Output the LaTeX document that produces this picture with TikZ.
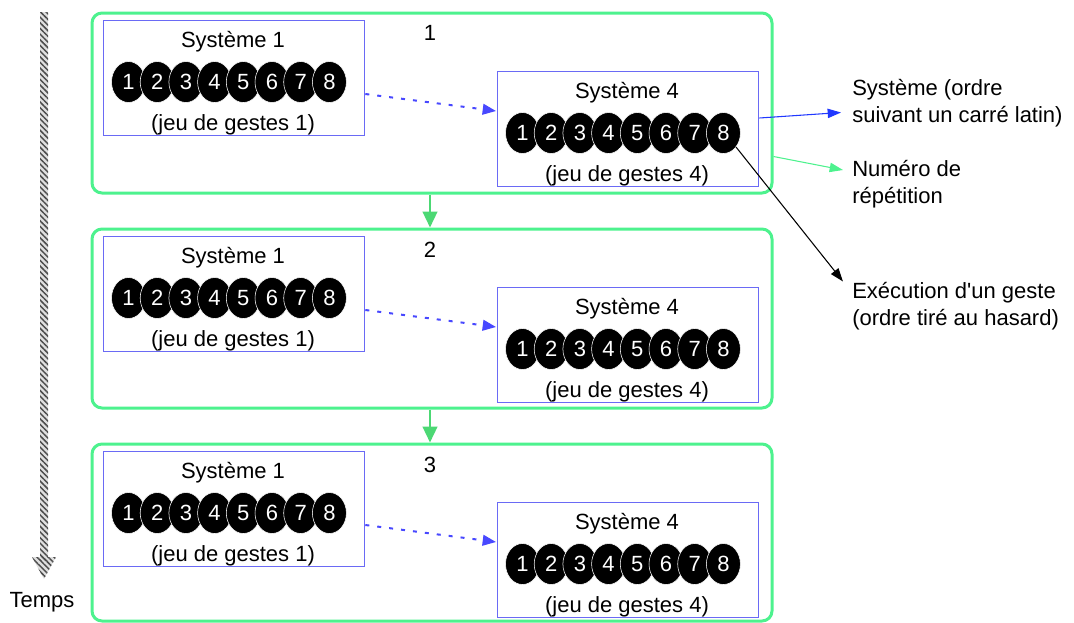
\documentclass[tikz,border=0pt]{standalone}
\usepackage{fontspec}
\setmainfont{Liberation Sans}
\usetikzlibrary{shapes.geometric,arrows.meta,calc,patterns.meta}
\definecolor{gbox}{HTML}{4DF28E}
\definecolor{bbox}{HTML}{6A6AF5}
\definecolor{barrow}{HTML}{4848FF}
\definecolor{garrow}{HTML}{4CD874}
\definecolor{bline}{HTML}{2038FF}
\newcommand\sysgroup[4]{%
  \node[sysbox, anchor=north west] (#1) at (#2,#3) {};
  \node (#1-title) at (#2+130,#3+22) {Système #4};
  \foreach \i in {1,...,8}{\node[gest] (#1-\i) at ({#2+25.5+(\i-1)*28.7},{#3+62}) {\i};}
  \node (#1-jeu) at (#2+130,#3+105) {(jeu de gestes #4)};
}
\begin{document}
\begin{tikzpicture}[x=0.75pt,y=-0.75pt,
  font=\fontsize{16.5}{20.25}\selectfont,
  rep/.style={draw=gbox, line width=2.25pt, rounded corners=7.5pt, minimum width=510pt, inner sep=0pt},
  sysbox/.style={draw=bbox, line width=1pt, minimum width=195.75pt, minimum height=86.25pt, inner sep=0pt},
  gest/.style={ellipse, fill=black, draw=white, line width=0.4pt, minimum width=25.5pt, minimum height=30.75pt, inner sep=0pt, text=white},
  dasharrow/.style={barrow, line width=1.5pt, dash pattern=on 3pt off 6pt, -{Triangle[length=10pt,width=8pt]}},
  reparrow/.style={garrow, line width=1.8pt, -{Triangle[length=12pt,width=11pt]}},
  lbl/.style={align=left, anchor=west, inner sep=0pt},
  thinarrow/.style={line width=0.8pt, -{Triangle[length=10pt,width=7pt]}}
]
\useasboundingbox (0,0) rectangle (1074,622);

% repetition boxes
\node[rep, minimum height=135pt] (r1) at (432,103) {};
\node[rep, minimum height=134.25pt] (r2) at (432,318.5) {};
\node[rep, minimum height=132.75pt] (r3) at (432,532.5) {};

\node (n1) at (430,33) {1};
\node (n2) at (430,250) {2};
\node (n3) at (430,465) {3};

% systems
\sysgroup{s1a}{103}{20}{1}
\sysgroup{s4a}{497}{71}{4}
\sysgroup{s1b}{103}{236}{1}
\sysgroup{s4b}{497}{287}{4}
\sysgroup{s1c}{103}{451}{1}
\sysgroup{s4c}{497}{502}{4}

% dashed arrows
\draw[dasharrow] ($(s1a.north east)+(0,74)$) -- ($(s4a.north west)+(-1,40)$);
\draw[dasharrow] ($(s1b.north east)+(0,74)$) -- ($(s4b.north west)+(-1,40)$);
\draw[dasharrow] ($(s1c.north east)+(0,74)$) -- ($(s4c.north west)+(-1,40)$);

% repetition arrows
\draw[reparrow] ($(r1.south)+(-2,0)$) -- ($(r2.north)+(-2,0)$);
\draw[reparrow] ($(r2.south)+(-2,0)$) -- ($(r3.north)+(-2,0)$);

% right labels
\node[lbl] (lab1) at (852,103.5) {Système (ordre\\suivant un carré latin)};
\node[lbl] (lab2) at (852,184) {Numéro de\\répétition};
\node[lbl] (lab3) at (852,306.5) {Exécution d\textquotesingle un geste\\(ordre tiré au hasard)};

\draw[thinarrow, bline] ($(s4a.north east)+(0,47)$) -- ($(lab1.west)+(-11,9)$);
\draw[thinarrow, gbox] ($(r1.north east)+(0,145)$) -- ($(lab2.west)+(-9,-14)$);
\draw[thinarrow, black] (s4a-8.-48) -- ($(lab3.west)+(-9,-25)$);

% time arrow
\fill[gray!25] (40,12) rectangle (48,560);
\fill[gray!25] (32,557) -- (56,557) -- (44,579) -- cycle;
\fill[pattern={Lines[angle=-45,distance=3pt,line width=1.1pt]}, pattern color=black!70] (40,12) rectangle (48,560);
\fill[pattern={Lines[angle=-45,distance=3pt,line width=1.1pt]}, pattern color=black!70] (32,557) -- (56,557) -- (44,579) -- cycle;
\node (temps) at (42,602) {Temps};
\end{tikzpicture}
\end{document}
